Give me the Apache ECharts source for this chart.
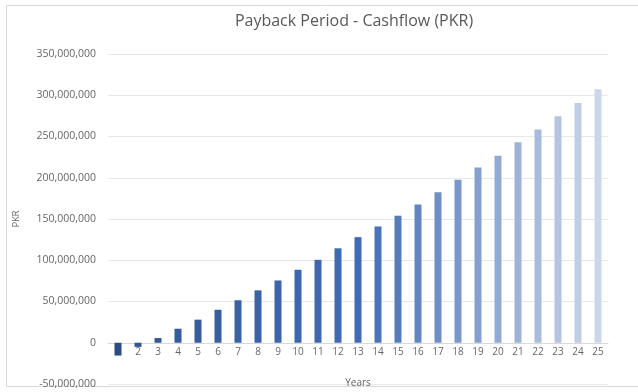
<!DOCTYPE html>
<html>
<head>
<meta charset="utf-8">
<script src="https://cdn.jsdelivr.net/npm/echarts@6/dist/echarts.min.js"></script>
<style>
html, body { margin: 0; padding: 0; background: #fff; }
#chart { width: 638px; height: 392px; }
</style>
</head>
<body>
<div id="chart"></div>
<script>
var years = ['1', '2', '3', '4', '5', '6', '7', '8', '9', '10', '11', '12', '13',
    '14', '15', '16', '17', '18', '19', '20', '21', '22', '23', '24', '25'];
var cashflow = [-15500000, -5000000, 5700000, 17000000, 28000000, 40000000, 51500000,
    63500000, 75500000, 88500000, 100500000, 114500000, 128000000, 141000000,
    154000000, 167700000, 182300000, 197700000, 212300000, 226800000, 243000000,
    258400000, 274500000, 290700000, 307300000];

// bar shades, dark navy -> pale blue
var shadeStops = [[43, 76, 128], [64, 106, 178], [204, 214, 233]];
function shade(i) {
    var n = years.length - 1, t = i / n, a, b, f;
    if (t < 0.5) { a = shadeStops[0]; b = shadeStops[1]; f = Math.pow(t / 0.5, 0.5); }
    else { a = shadeStops[1]; b = shadeStops[2]; f = (t - 0.5) / 0.5; }
    return 'rgb(' + [0, 1, 2].map(function (k) { return Math.round(a[k] + (b[k] - a[k]) * f); }).join(',') + ')';
}

var barData = [];
cashflow.forEach(function (v, i) {
    barData.push({ value: v, itemStyle: { color: shade(i) } });
});

var dom = document.getElementById('chart');
var myChart = echarts.init(dom);
var option = {
    animation: false,
    textStyle: { fontFamily: 'Open Sans' },
    title: {
        text: 'Payback Period - Cashflow (PKR)',
        left: 349,
        textAlign: 'center',
        top: 8,
        textStyle: { color: '#595959', fontSize: 16, fontWeight: 'normal', fontFamily: 'Open Sans' }
    },
    graphic: [{
        type: 'rect',
        shape: { x: 6.5, y: 5.5, width: 640, height: 381 },
        style: { fill: 'none', stroke: '#d9d9d9', lineWidth: 1 },
        silent: true
    }],
    grid: { left: 108, right: 30, top: 54, bottom: 8, outerBoundsMode: 'none', containLabel: false },
    xAxis: {
        type: 'category',
        data: years,
        name: 'Years',
        nameLocation: 'middle',
        nameGap: 35,
        offset: -41.25,
        nameTextStyle: { color: '#666', fontSize: 10 },
        axisLine: { onZero: false, lineStyle: { color: '#d9d9d9' } },
        axisTick: { show: false },
        axisLabel: { color: '#666', fontSize: 10, margin: 4, interval: 0 }
    },
    yAxis: {
        type: 'value',
        min: -50000000,
        max: 350000000,
        interval: 50000000,
        name: 'PKR',
        nameLocation: 'middle',
        nameGap: 87,
        nameRotate: 90,
        nameTextStyle: { color: '#666', fontSize: 9 },
        axisLine: { show: false },
        axisTick: { show: false },
        splitLine: { lineStyle: { color: '#e8e8e8' } },
        axisLabel: {
            color: '#666', fontSize: 10.5, margin: 12,
            formatter: function (v) { return v.toLocaleString('en-US'); }
        }
    },
    series: [{
        name: 'Cashflow',
        type: 'bar',
        barWidth: 7,
        data: barData
    }]
};
myChart.setOption(option, true);
window.onresize = myChart.resize;
</script>
</body>
</html>
